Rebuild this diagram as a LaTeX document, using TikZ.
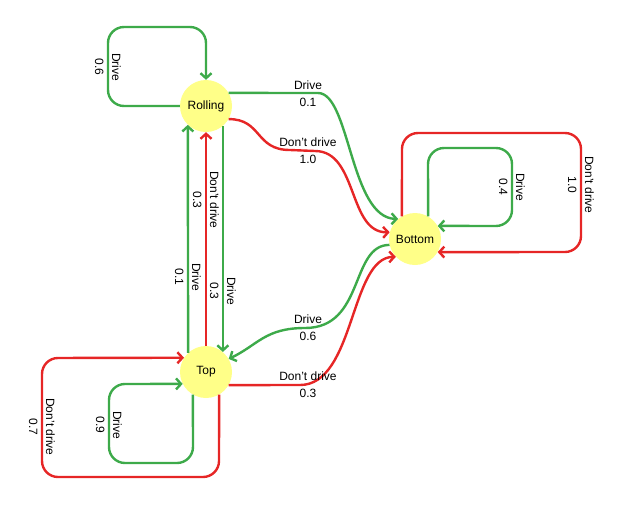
\documentclass[tikz,border=0pt]{standalone}
\usepackage{fontspec}
\setmainfont{Liberation Sans}
\usetikzlibrary{arrows.meta}
\definecolor{gr}{RGB}{61,170,74}
\definecolor{rd}{RGB}{230,38,38}
\definecolor{yl}{RGB}{255,255,136}
\begin{document}
\begin{tikzpicture}[x=1pt,y=-1pt,
  state/.style={circle,fill=yl,minimum size=52pt,inner sep=0pt,font=\fontsize{12}{14}\selectfont},
  edge/.style={line width=2.4pt,line join=round,-{Straight Barb[length=5pt,width=11pt]}},
  gedge/.style={edge,draw=gr},
  redge/.style={edge,draw=rd},
  loopy/.style={rounded corners=16pt},
  lbl/.style={align=center,inner sep=0pt,font=\fontsize{12}{17}\selectfont},
  vlbl/.style={lbl,rotate=-90}]
\useasboundingbox (0,0) rectangle (621,507);
\node[state] (rolling) at (206,106) {Rolling};
\node[state] (top) at (206,372) {Top};
\node[state] (bottom) at (415,239) {Bottom};

% Rolling self loop
\draw[gedge,loopy] (rolling.west) -- (108,106) -- (108,27) -- (206,27) -- (rolling.north);
\node[vlbl] (l1) at (108,67) {Drive\\0.6};

% vertical edges
\draw[gedge] (top.133.5) -- (rolling.226);
\draw[redge] (top.north) -- (rolling.south);
\draw[gedge] (rolling.310) -- (top.50);
\node[vlbl] (l2) at (188,277) {Drive\\0.1};
\node[vlbl] (l3) at (206,200) {Don't drive\\0.3};
\node[vlbl] (l4) at (223,291) {Drive\\0.3};

% Rolling -> Bottom
\draw[gedge] (rolling.30) -- (318,93) .. controls (350,93) and (350,218) .. (bottom.130.6);
\node[lbl] (l5) at (308,94) {Drive\\0.1};
\draw[redge] (rolling.-30) .. controls (262,119) and (255,150) .. (290,150) -- (315,151) .. controls (358,151) and (348,233) .. (bottom.165);
\node[lbl] (l6) at (308,151) {Don't drive\\1.0};

% Bottom -> Top
\draw[gedge] (bottom.193.5) .. controls (350,245) and (365,328) .. (305,328) .. controls (265,328) and (258,345) .. (top.30);
\node[lbl] (l7) at (308,328) {Drive\\0.6};
% Top -> Bottom
\draw[redge] (top.-30) -- (300,385) .. controls (355,385) and (350,257) .. (bottom.223.5);
\node[lbl] (l8) at (308,385) {Don't drive\\0.3};

% Bottom self loops
\draw[gedge,loopy] (bottom.60) -- (428,148) -- (512,148) -- (512,226) -- (bottom.30);
\node[vlbl] (l9) at (512,187) {Drive\\0.4};
\draw[redge,loopy] (bottom.120) -- (402,133) -- (581,133) -- (581,252) -- (bottom.-30);
\node[vlbl] (l10) at (581,185) {Don't drive\\1.0};

% Top self loops
\draw[redge,loopy] (top.-60) -- (219,477) -- (42,477) -- (42,358) -- (top.147.5);
\node[vlbl] (l11) at (42,427) {Don't drive\\0.7};
\draw[gedge,loopy] (top.240) -- (193,463) -- (109,463) -- (109,384) -- (top.207.5);
\node[vlbl] (l12) at (109,425) {Drive\\0.9};
\end{tikzpicture}
\end{document}
